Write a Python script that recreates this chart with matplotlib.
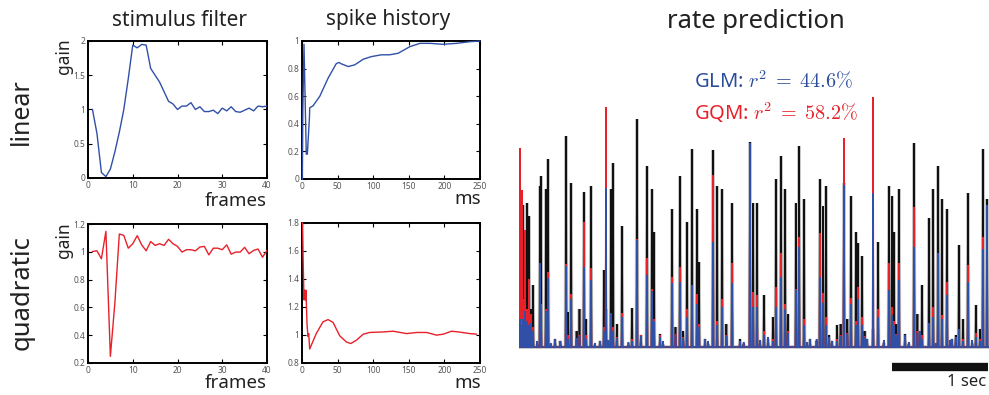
import matplotlib
matplotlib.use("Agg")
import matplotlib.pyplot as plt
from matplotlib.ticker import FuncFormatter

plt.rcParams['font.family'] = ['Noto Sans', 'DejaVu Sans']
plt.rcParams['mathtext.fontset'] = 'cm'

# ---------------- data ----------------
frames = list(range(1, 41))
lin_stim = [1.00, 0.65, 0.08, 0.02, 0.13, 0.38, 0.67, 1.00, 1.45, 1.94,
            1.90, 1.95, 1.94, 1.60, 1.50, 1.40, 1.26, 1.12, 1.08, 1.00,
            1.05, 1.05, 1.10, 1.00, 1.04, 0.97, 0.97, 0.99, 0.94, 1.02,
            0.98, 1.04, 0.97, 0.96, 0.99, 1.02, 0.98, 1.05, 1.04, 1.05]
quad_stim = [1.002, 1.007, 0.950, 1.147, 0.248, 0.630, 1.128, 1.118, 1.026, 1.058,
             1.116, 1.050, 1.007, 1.074, 1.046, 1.058, 1.046, 1.090, 1.058, 1.039,
             0.998, 1.015, 1.015, 1.007, 1.034, 1.039, 0.978, 1.026, 1.026, 1.015,
             1.050, 0.983, 0.998, 0.998, 1.032, 0.986, 1.010, 1.020, 0.961, 1.010]

lin_hist_t = [0.5, 1.2, 2.8, 6.0, 7.5, 10.5, 10.8, 15.5, 25, 36.6, 48, 51.6, 55, 65, 74,
              86, 97.5, 111.6, 123, 135, 151.5, 165.6, 180, 198, 217, 236, 250]
lin_hist = [0.0, 0.5, 0.976, 0.18, 0.18, 0.45, 0.516, 0.53, 0.60, 0.73, 0.835, 0.845,
            0.835, 0.815, 0.827, 0.868, 0.887, 0.90, 0.90, 0.911, 0.959, 0.983,
            0.983, 0.976, 0.983, 0.995, 1.0]

quad_hist_t = [0.8, 1.6, 2.8, 3.75, 4.7, 5.6, 7.0, 8.4, 9.4, 10.8, 20, 29.5, 36.6, 43.6,
               53, 62.4, 68.5, 76.5, 86, 95, 114, 128, 147, 161, 175, 189, 198.5,
               210, 219.5, 236, 245]
quad_hist = [1.80, 1.54, 1.25, 1.32, 1.25, 1.32, 1.08, 0.99, 1.01, 0.90, 1.01, 1.094,
             1.11, 1.09, 0.994, 0.95, 0.939, 0.963, 1.006, 1.018, 1.022, 1.027, 1.01,
             1.018, 1.018, 0.999, 1.006, 1.027, 1.022, 1.01, 1.006]

# rate prediction: event times (s) and peak rates (observed, GQM, GLM)
event_t = [0.010, 0.031, 0.042, 0.062, 0.083, 0.104, 0.125, 0.146, 0.219, 0.229,
           0.281, 0.302, 0.375, 0.490, 0.510, 0.542, 0.677, 0.698, 0.750, 0.844,
           0.885, 0.906, 0.958, 0.979, 1.073, 1.177, 1.229, 1.333, 1.385, 1.406,
           1.469, 1.594, 1.677, 1.750, 1.802, 1.854, 1.875, 1.938, 2.021, 2.063,
           2.115, 2.219, 2.302, 2.406, 2.438, 2.479, 2.552, 2.594, 2.646, 2.677,
           2.729, 2.771, 2.885, 2.917, 2.969, 3.031, 3.135, 3.167, 3.198, 3.260,
           3.313, 3.385, 3.458, 3.510, 3.531, 3.573, 3.625, 3.688, 3.740, 3.854,
           3.885, 3.906, 3.958, 4.021, 4.115, 4.177, 4.198, 4.271, 4.313, 4.365,
           4.406, 4.458, 4.510, 4.583, 4.625, 4.677, 4.760, 4.802, 4.833, 4.875]
observed = [20, 60, 144, 50, 146, 133, 40, 64, 163, 173,
            160, 190, 10, 213, 37, 166, 157, 30, 163, 8,
            79, 40, 160, 186, 123, 41, 230, 183, 160, 117,
            15, 140, 173, 127, 200, 140, 87, 10, 199, 163,
            160, 146, 10, 207, 146, 146, 54, 10, 32, 170,
            193, 160, 146, 203, 150, 10, 170, 143, 163, 8,
            24, 166, 153, 117, 106, 93, 10, 20, 107, 163,
            153, 117, 160, 15, 206, 10, 64, 131, 160, 183,
            150, 140, 10, 104, 30, 156, 44, 20, 200, 150]
gqm = [201, 159, 50, 119, 40, 70, 35, 22, 85, 45,
       40, 77, 10, 85, 14, 55, 127, 14, 81, 8,
       22, 242, 35, 22, 36, 10, 110, 91, 60, 30,
       14, 72, 82, 40, 62, 55, 25, 10, 174, 28,
       50, 86, 8, 206, 57, 54, 18, 12, 10, 62,
       96, 45, 60, 112, 30, 10, 116, 56, 32, 8,
       10, 211, 51, 28, 62, 32, 10, 252, 40, 86,
       42, 28, 86, 14, 142, 18, 14, 20, 42, 60,
       34, 67, 10, 16, 10, 84, 16, 10, 112, 90]
glm = [30, 24, 30, 38, 28, 24, 26, 18, 86, 40,
       38, 71, 10, 83, 10, 50, 82, 10, 69, 8,
       18, 161, 36, 18, 32, 8, 109, 74, 58, 28,
       12, 66, 67, 32, 64, 45, 22, 10, 107, 24,
       42, 66, 8, 206, 42, 42, 14, 12, 8, 42,
       72, 40, 59, 102, 24, 10, 72, 46, 24, 8,
       8, 164, 45, 24, 50, 24, 10, 156, 32, 59,
       34, 24, 69, 14, 102, 18, 10, 26, 32, 96,
       30, 54, 10, 20, 8, 67, 12, 8, 100, 144]

# small fluctuations near the baseline
minor_t = [0.19, 0.33, 0.43, 0.60, 0.63, 0.79, 0.93, 1.02, 1.14, 1.27, 1.50, 1.63,
           1.71, 1.97, 2.16, 2.34, 2.51, 2.80, 3.00, 3.10, 3.23, 3.35, 3.42, 3.60,
           3.80, 3.93, 4.06, 4.15, 4.34, 4.49, 4.55, 4.72]
minor_obs = [5, 4, 8, 18, 40, 4, 8, 25, 4, 14, 5, 22,
             18, 5, 25, 5, 8, 35, 5, 8, 14, 25, 30, 18,
             6, 25, 5, 35, 4, 8, 14, 6]
minor_gqm = [7, 5, 8, 10, 14, 5, 9, 12, 6, 14, 7, 15,
             12, 7, 14, 6, 9, 18, 6, 9, 12, 14, 16, 13,
             8, 15, 6, 18, 5, 9, 12, 8]
minor_glm = [8, 6, 8, 11, 13, 6, 9, 11, 7, 13, 8, 14,
             11, 8, 13, 7, 9, 16, 7, 10, 12, 13, 15, 12,
             9, 14, 7, 16, 6, 9, 12, 9]

BLUE = '#3050A8'
RED = '#E8202A'
INK = '#222222'

# ---------------- figure ----------------
W, H = 989, 395
fig = plt.figure(figsize=(W / 100, H / 100), dpi=100)


def add_ax(l, t, r, b):
    return fig.add_axes([l / W, 1 - b / H, (r - l) / W, (b - t) / H])


def ftext(x, y, s, **kw):
    fig.text(x / W, 1 - y / H, s, **kw)


fmt = FuncFormatter(lambda v, p: '%g' % round(v, 3))


def style(ax):
    for sp in ax.spines.values():
        sp.set_linewidth(1.4)
        sp.set_zorder(1)
    ax.tick_params(direction='in', length=3, width=0.8, top=True, right=True,
                   labelsize=6, labelcolor='#555555', pad=2)
    ax.xaxis.set_major_formatter(fmt)
    ax.yaxis.set_major_formatter(fmt)


ax1 = add_ax(88, 41, 267, 178)
ax1.plot(frames, lin_stim, color=BLUE, lw=1.0, zorder=3)
ax1.set_xlim(0, 40); ax1.set_ylim(0, 2)
ax1.set_xticks([0, 10, 20, 30, 40]); ax1.set_yticks([0, 0.5, 1, 1.5, 2])
style(ax1)

ax2 = add_ax(302, 41, 480, 179)
ax2.plot(lin_hist_t, lin_hist, color=BLUE, lw=1.0, zorder=3, clip_on=False)
ax2.set_xlim(0, 250); ax2.set_ylim(0, 1)
ax2.set_xticks([0, 50, 100, 150, 200, 250]); ax2.set_yticks([0, 0.2, 0.4, 0.6, 0.8, 1])
style(ax2)

ax3 = add_ax(88, 224, 267, 363)
ax3.plot(frames, quad_stim, color=RED, lw=1.0, zorder=3)
ax3.set_xlim(0, 40); ax3.set_ylim(0.2, 1.2)
ax3.set_xticks([0, 10, 20, 30, 40]); ax3.set_yticks([0.2, 0.4, 0.6, 0.8, 1, 1.2])
style(ax3)

ax4 = add_ax(302, 223, 480, 363)
ax4.plot(quad_hist_t, quad_hist, color=RED, lw=1.0, zorder=3, clip_on=False)
ax4.set_xlim(0, 250); ax4.set_ylim(0.8, 1.8)
ax4.set_xticks([0, 50, 100, 150, 200, 250]); ax4.set_yticks([0.8, 1, 1.2, 1.4, 1.6, 1.8])
style(ax4)

# rate prediction panel
ax5 = add_ax(519, 89, 989, 349)
ax5.set_xlim(0, 470 / 96)
ax5.set_ylim(0, 260)
ax5.axis('off')

half = 0.005
base = 2


def spikes(major, minor):
    pts = sorted(list(zip(event_t, major)) + list(zip(minor_t, minor)))
    xs, ys = [0.0], [base]
    for t, v in pts:
        xs += [t - half, t, t + half]
        ys += [base, v, base]
    xs.append(470 / 96)
    ys.append(base)
    return xs, ys


xs, ys = spikes(observed, minor_obs)
ax5.plot(xs, ys, color='#c8c8c8', lw=2.6, solid_joinstyle='miter', zorder=1)
ax5.plot(xs, ys, color='#111111', lw=1.2, solid_joinstyle='miter', zorder=2)
xs, ys = spikes(gqm, minor_gqm)
ax5.plot(xs, ys, color=RED, lw=1.1, solid_joinstyle='miter', zorder=3)
xs, ys = spikes(glm, minor_glm)
ax5.plot(xs, ys, color=BLUE, lw=1.1, solid_joinstyle='miter', zorder=4)

# scale bar (1 sec)
ax5.plot([3.885, 4.885], [-18, -18], color='#111111', lw=6, solid_capstyle='butt',
         clip_on=False)

# ---------------- texts ----------------
ftext(180, 20, 'stimulus filter', ha='center', va='center', fontsize=15, color=INK)
ftext(388, 20, 'spike history', ha='center', va='center', fontsize=15, color=INK)
ftext(756, 22, 'rate prediction', ha='center', va='center', fontsize=18.5, color=INK)
ftext(21, 112, 'linear', ha='center', va='center', fontsize=18, rotation=90, color=INK)
ftext(22, 293, 'quadratic', ha='center', va='center', fontsize=18.5, rotation=90, color=INK)
ftext(64, 56, 'gain', ha='center', va='center', fontsize=12.5, rotation=90, color=INK)
ftext(64, 240, 'gain', ha='center', va='center', fontsize=12.5, rotation=90, color=INK)
ftext(267, 201, 'frames', ha='right', va='center', fontsize=13.5, color=INK)
ftext(267, 383, 'frames', ha='right', va='center', fontsize=13.5, color=INK)
ftext(481, 199, 'ms', ha='right', va='center', fontsize=13.5, color=INK)
ftext(481, 383, 'ms', ha='right', va='center', fontsize=13.5, color=INK)
ftext(694, 82, r'GLM: $r^2\;=\;44.6\%$', ha='left', va='center', fontsize=14.5, color='#2B4B9B')
ftext(694, 113, r'GQM: $r^2\;=\;58.2\%$', ha='left', va='center', fontsize=14.5, color=RED)
ftext(967, 382, '1 sec', ha='center', va='center', fontsize=12, color=INK)

fig.savefig('out.png', dpi=100)
